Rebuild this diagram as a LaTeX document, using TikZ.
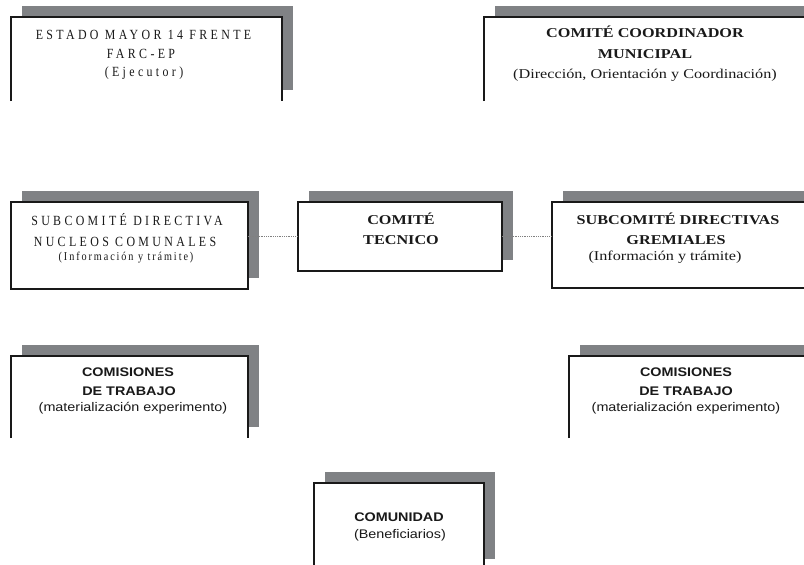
\documentclass[tikz,border=0pt]{standalone}
\usepackage{fontspec}
\setmainfont{Liberation Serif}
\newfontfamily\spc[LetterSpace=24,FakeStretch=0.85]{Liberation Serif}
\newfontfamily\spcs[LetterSpace=16,FakeStretch=0.85]{Liberation Serif}
\newfontfamily\wserif[FakeStretch=1.2]{Liberation Serif}
\newfontfamily\wsans[FakeStretch=1.15]{Liberation Sans}
\usetikzlibrary{calc}
\definecolor{shadowgray}{RGB}{128,130,133}
\definecolor{inkc}{RGB}{25,25,25}
\begin{document}
\begin{tikzpicture}[x=1pt,y=-1pt,
  frame/.style={rectangle, draw=none, fill=none, outer sep=0pt, inner sep=0pt},
  rim/.style={line width=1.3pt, draw=inkc, line join=miter},
  conn/.style={densely dotted, draw=gray, line width=0.8pt},
  lbl/.style={anchor=base, inner sep=0pt, text=inkc},
  spaced/.style={lbl, font=\spc\fontsize{14}{16}\selectfont},
  spacedsmall/.style={lbl, font=\spcs\fontsize{12}{14}\selectfont},
  bserif/.style={lbl, font=\wserif\bfseries\fontsize{13.5}{16}\selectfont},
  rserif/.style={lbl, font=\wserif\fontsize{13.5}{16}\selectfont},
  bsans/.style={lbl, font=\wsans\bfseries\fontsize{12.5}{15}\selectfont},
  rsans/.style={lbl, font=\wsans\fontsize{12.5}{15}\selectfont}
]
\useasboundingbox (0,0) rectangle (804,565);
\begin{scope}
\clip (0,0) rectangle (804,565);
% box frames (positions)
\node[frame, minimum width=271pt, minimum height=84pt] (A) at (146.5,59) {};
\node[frame, minimum width=324pt, minimum height=84pt] (B) at (646,59) {};
\node[frame, minimum width=237pt, minimum height=87pt] (C) at (129.5,245.5) {};
\node[frame, minimum width=204pt, minimum height=69pt] (D) at (400,236.5) {};
\node[frame, minimum width=258pt, minimum height=86pt] (E) at (681,245) {};
\node[frame, minimum width=237pt, minimum height=82pt] (F) at (129.5,397) {};
\node[frame, minimum width=246pt, minimum height=82pt] (G) at (692,397) {};
\node[frame, minimum width=170pt, minimum height=87pt] (H) at (399,526.5) {};
% shadows
\foreach \b in {A,B,C,D,E,F,G,H}{
  \fill[shadowgray] ($(\b.south west)+(11,-11)$) rectangle ($(\b.north east)+(11,-11)$);
}
% white faces
\foreach \b in {A,B,C,D,E,F,G,H}{
  \fill[white] (\b.south west) rectangle (\b.north east);
}
% open boxes (no bottom edge)
\foreach \b in {A,B,F,G,H}{
  \draw[rim] (\b.south west) -- (\b.north west) -- (\b.north east) -- (\b.south east);
}
% closed boxes
\foreach \b in {C,D,E}{
  \draw[rim] (\b.south west) rectangle (\b.north east);
}
% dotted connectors
\draw[conn] (D.west -| C.east) -- (D.west);
\draw[conn] (D.east) -- (D.east -| E.west);
% texts
\node[spaced] (a1) at (143.5,39) {ESTADO MAYOR 14 FRENTE};
\node[spaced] (a2) at (141,58) {FARC-EP};
\node[spaced] (a3) at (144,76) {(Ejecutor)};

\node[bserif] (b1) at (645,37) {COMITÉ COORDINADOR};
\node[bserif] (b2) at (645,58) {MUNICIPAL};
\node[rserif] (b3) at (645,78) {(Dirección, Orientación y Coordinación)};

\node[spaced] (c1) at (127,225) {SUBCOMITÉ DIRECTIVA};
\node[spaced] (c2) at (125,246) {NUCLEOS COMUNALES};
\node[spacedsmall] (c3) at (126,260) {(Información y trámite)};

\node[bserif] (d1) at (401,224) {COMITÉ};
\node[bserif] (d2) at (401,244) {TECNICO};

\node[bserif] (e1) at (678,224) {SUBCOMITÉ DIRECTIVAS};
\node[bserif] (e2) at (676,244) {GREMIALES};
\node[rserif] (e3) at (665,260) {(Información y trámite)};

\node[bsans] (f1) at (128,376) {COMISIONES};
\node[bsans] (f2) at (129,395) {DE TRABAJO};
\node[rsans] (f3) at (133,411) {(materialización experimento)};

\node[bsans] (g1) at (686,376) {COMISIONES};
\node[bsans] (g2) at (686,395) {DE TRABAJO};
\node[rsans] (g3) at (686,411) {(materialización experimento)};

\node[bsans] (h1) at (399,521) {COMUNIDAD};
\node[rsans] (h2) at (400,538) {(Beneficiarios)};
\end{scope}
\end{tikzpicture}
\end{document}
